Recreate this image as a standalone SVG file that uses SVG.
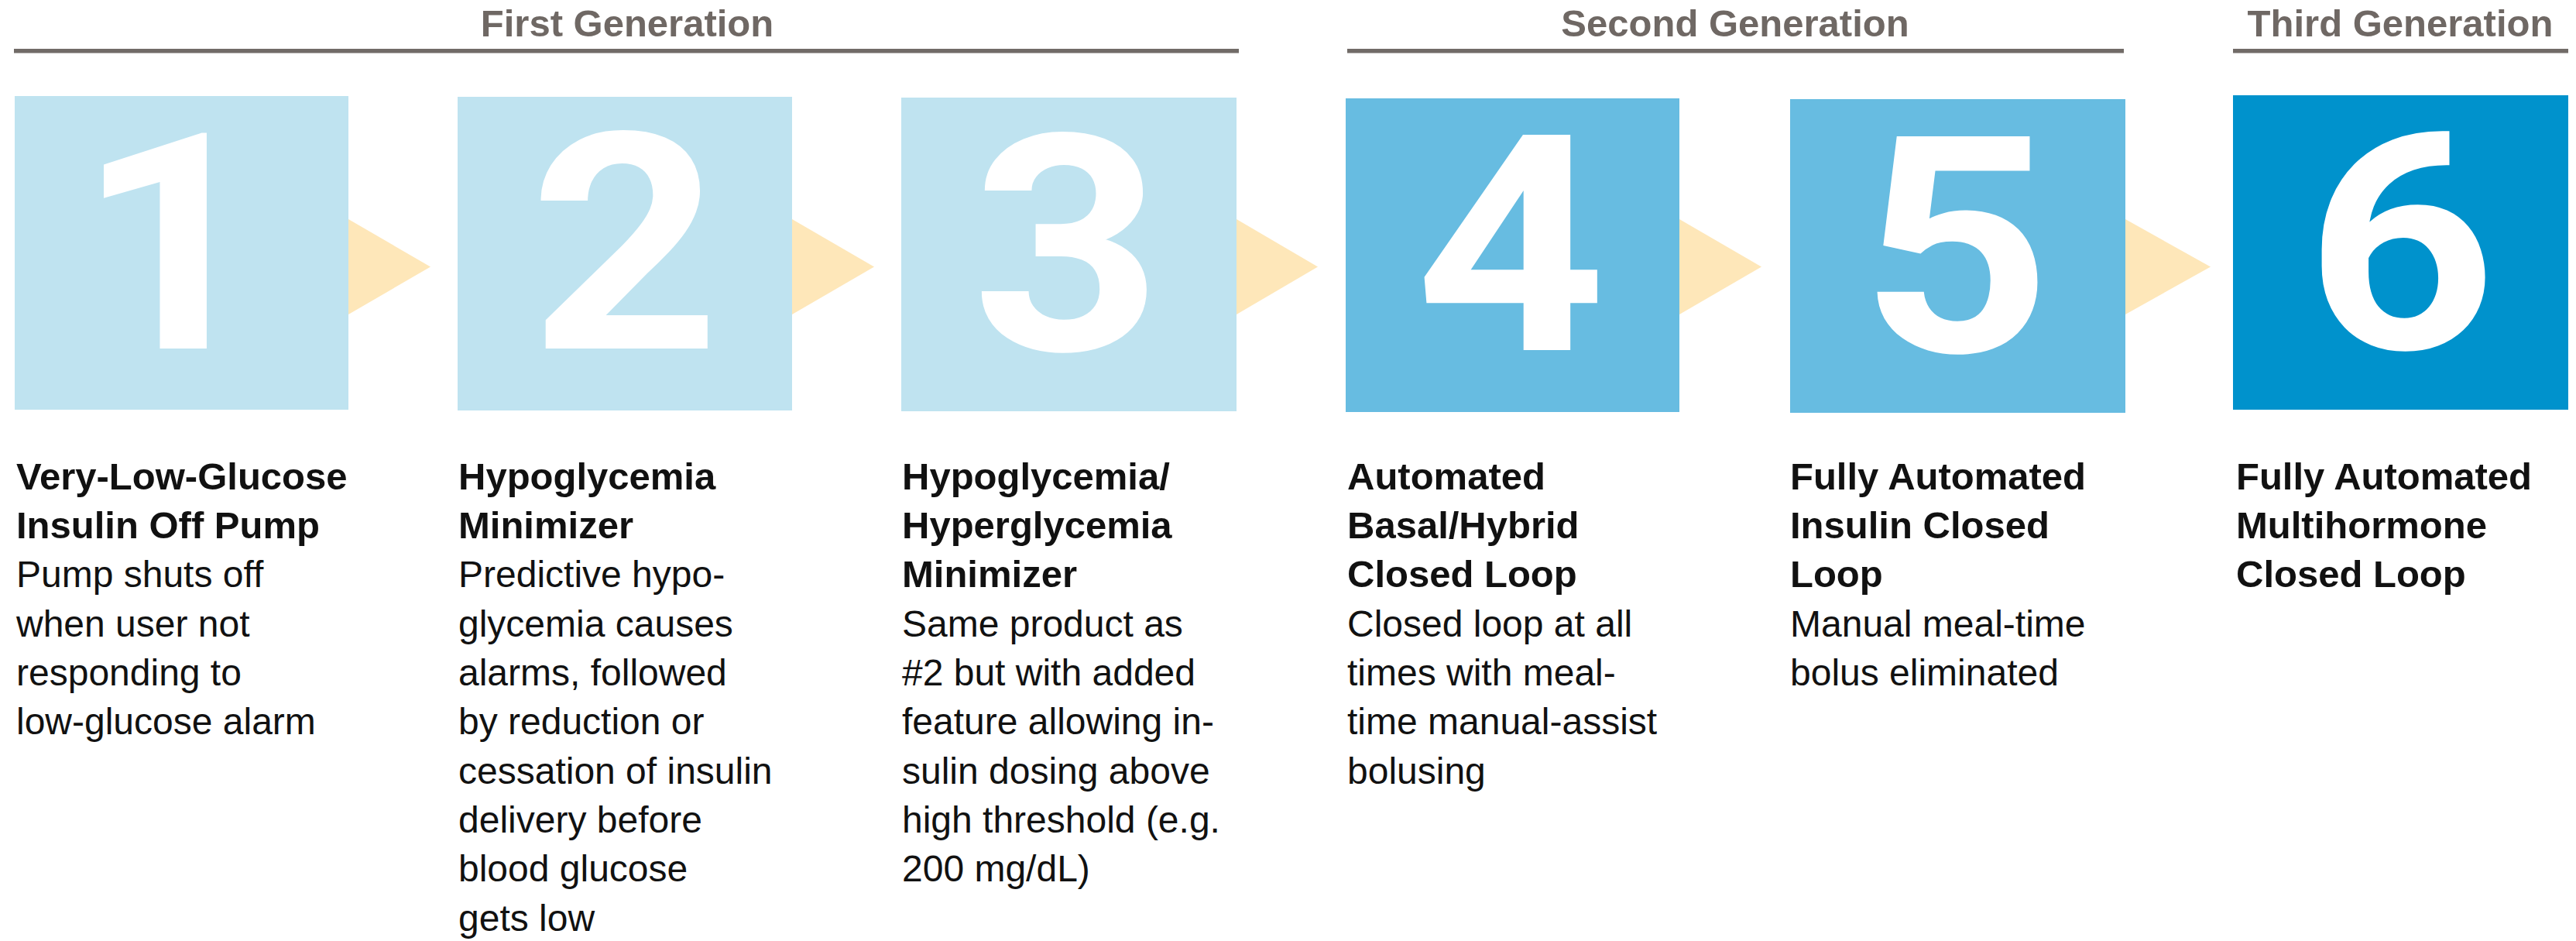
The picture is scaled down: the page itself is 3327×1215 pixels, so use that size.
<svg xmlns="http://www.w3.org/2000/svg" width="3327" height="1215" viewBox="0 0 3327 1215">
<style>
.hdr{font-family:"Liberation Sans",Arial,sans-serif;font-weight:bold;font-size:49px;fill:#6f6864;text-anchor:middle}
.rule{fill:#716b67}
.num{font-family:Roboto,"Liberation Sans",Arial,sans-serif;font-weight:bold;font-size:391px;fill:#ffffff;text-anchor:middle}
.t{font-family:"Liberation Sans",Arial,sans-serif;font-weight:bold;font-size:49px;fill:#111111}
.b{font-family:"Liberation Sans",Arial,sans-serif;font-size:48px;fill:#111111}
.g1{fill:#bfe3f0}
.g2{fill:#67bce1}
.g3{fill:#0092cc}
.arr{fill:#fee7b9}
</style>
<rect width="3327" height="1215" fill="#ffffff"/>
<g id="headers">
<text class="hdr" x="810" y="47">First Generation</text>
<rect class="rule" x="18" y="63" width="1582" height="5.5"/>
<text class="hdr" x="2241" y="47">Second Generation</text>
<rect class="rule" x="1740" y="63" width="1003" height="5.5"/>
<text class="hdr" x="3100" y="47">Third Generation</text>
<rect class="rule" x="2884" y="63" width="433" height="5.5"/>
</g>
<g id="connectors">
<polygon class="arr" points="450,283 556,344.5 450,406"/>
<polygon class="arr" points="1023,283 1129,344.5 1023,406"/>
<polygon class="arr" points="1597,283 1702,344.5 1597,406"/>
<polygon class="arr" points="2169,283 2275,344.5 2169,406"/>
<polygon class="arr" points="2745,283 2855,344.5 2745,406"/>
</g>
<g id="node1">
<rect class="g1" x="19" y="124" width="431" height="405"/>
<text class="num" transform="translate(222,0) scale(1.1,1)" x="0" y="450">1</text>
<text class="t" x="21" y="632">Very-Low-Glucose</text>
<text class="t" x="21" y="695">Insulin Off Pump</text>
<text class="b" x="21" y="758">Pump shuts off</text>
<text class="b" x="21" y="822">when user not</text>
<text class="b" x="21" y="885">responding to</text>
<text class="b" x="21" y="948">low-glucose alarm</text>
</g>
<g id="node2">
<rect class="g1" x="591" y="125" width="432" height="405"/>
<text class="num" transform="translate(807,0) scale(1.1,1)" x="0" y="450">2</text>
<text class="t" x="592" y="632">Hypoglycemia</text>
<text class="t" x="592" y="695">Minimizer</text>
<text class="b" x="592" y="758">Predictive hypo-</text>
<text class="b" x="592" y="822">glycemia causes</text>
<text class="b" x="592" y="885">alarms, followed</text>
<text class="b" x="592" y="948">by reduction or</text>
<text class="b" x="592" y="1012">cessation of insulin</text>
<text class="b" x="592" y="1075">delivery before</text>
<text class="b" x="592" y="1138">blood glucose</text>
<text class="b" x="592" y="1202">gets low</text>
</g>
<g id="node3">
<rect class="g1" x="1164" y="126" width="433" height="405"/>
<text class="num" transform="translate(1378,0) scale(1.1,1)" x="0" y="452">3</text>
<text class="t" x="1165" y="632">Hypoglycemia/</text>
<text class="t" x="1165" y="695">Hyperglycemia</text>
<text class="t" x="1165" y="758">Minimizer</text>
<text class="b" x="1165" y="822">Same product as</text>
<text class="b" x="1165" y="885">#2 but with added</text>
<text class="b" x="1165" y="948">feature allowing in-</text>
<text class="b" x="1165" y="1012">sulin dosing above</text>
<text class="b" x="1165" y="1075">high threshold (e.g.</text>
<text class="b" x="1165" y="1138">200 mg/dL)</text>
</g>
<g id="node4">
<rect class="g2" x="1738" y="127" width="431" height="405"/>
<text class="num" transform="translate(1951,0) scale(1.1,1)" x="0" y="452">4</text>
<text class="t" x="1740" y="632">Automated</text>
<text class="t" x="1740" y="695">Basal/Hybrid</text>
<text class="t" x="1740" y="758">Closed Loop</text>
<text class="b" x="1740" y="822">Closed loop at all</text>
<text class="b" x="1740" y="885">times with meal-</text>
<text class="b" x="1740" y="948">time manual-assist</text>
<text class="b" x="1740" y="1012">bolusing</text>
</g>
<g id="node5">
<rect class="g2" x="2312" y="128" width="433" height="405"/>
<text class="num" transform="translate(2526,0) scale(1.1,1)" x="0" y="454">5</text>
<text class="t" x="2312" y="632">Fully Automated</text>
<text class="t" x="2312" y="695">Insulin Closed</text>
<text class="t" x="2312" y="758">Loop</text>
<text class="b" x="2312" y="822">Manual meal-time</text>
<text class="b" x="2312" y="885">bolus eliminated</text>
</g>
<g id="node6">
<rect class="g3" x="2884" y="123" width="433" height="406"/>
<text class="num" transform="translate(3101,0) scale(1.1,1)" x="0" y="450">6</text>
<text class="t" x="2888" y="632">Fully Automated</text>
<text class="t" x="2888" y="695">Multihormone</text>
<text class="t" x="2888" y="758">Closed Loop</text>
</g>
</svg>
